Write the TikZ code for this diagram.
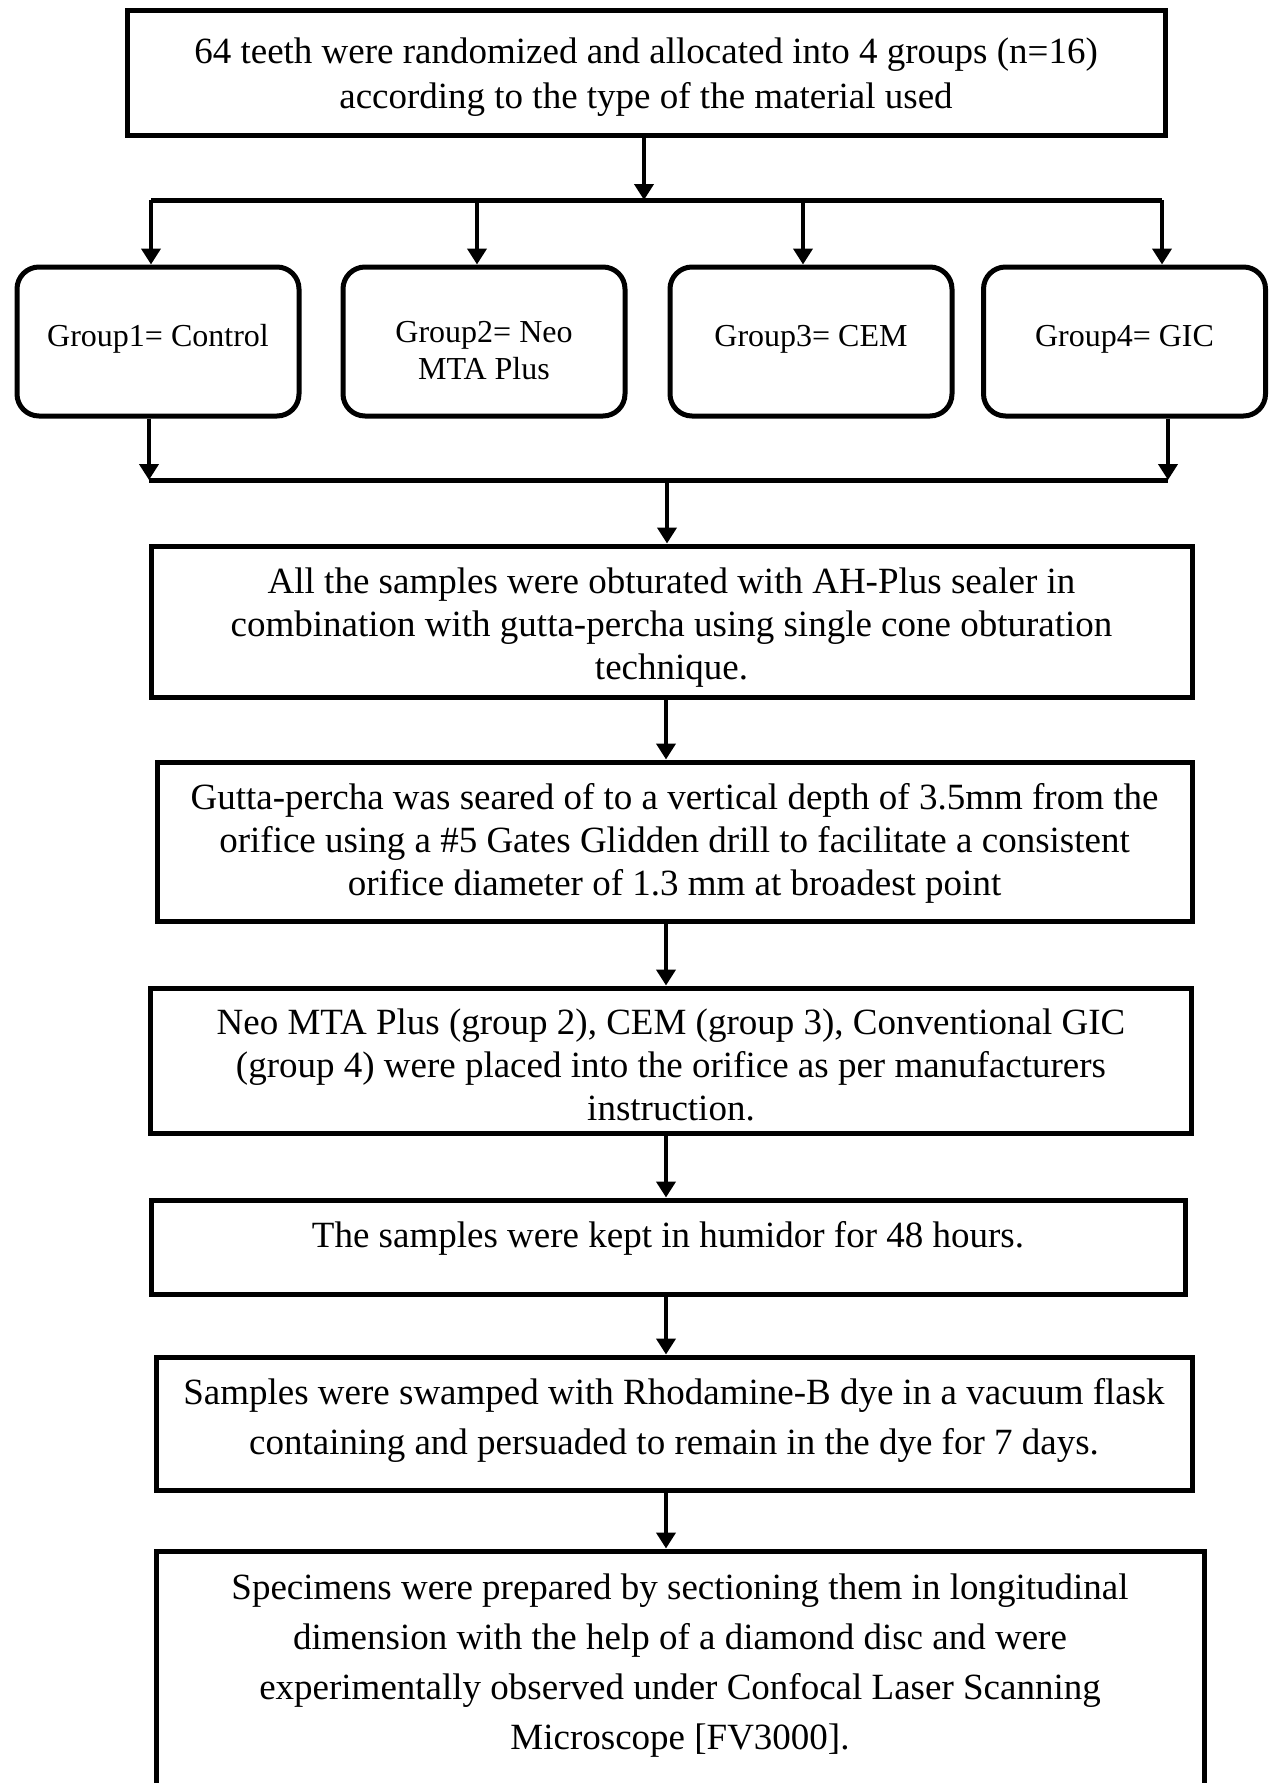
\documentclass[tikz,border=0pt]{standalone}
\usepackage{fontspec}
\setmainfont{Liberation Serif}
\usetikzlibrary{arrows.meta}
\tikzset{
	box/.style={draw, line width=2.5pt, align=center, inner sep=0pt, font=\fontsize{18.5}{21.5}\selectfont},
	grp/.style={draw, line width=2.5pt, rounded corners=11pt, align=center, minimum width=141pt, minimum height=74.5pt, inner sep=0pt, font=\fontsize{16}{18.5}\selectfont},
	arr/.style={line width=2.2pt, -{Triangle[length=8pt,width=9.5pt]}},
	bar/.style={line width=2.5pt},
}
\newcommand{\pushdown}[1]{\rule{0pt}{#1}}
\newcommand{\pushup}[1]{\rule[-#1]{0pt}{1pt}}

\begin{document}
\begin{tikzpicture}[x=0.5pt, y=-0.5pt]
		%%%%% START %%%%%
		\useasboundingbox (0, 0) rectangle (1279, 1783);
		\clip (0, 0) rectangle (1279, 1783);
		
		\node[box, minimum width=519pt, minimum height=62.75pt, font=\fontsize{18.5}{22.5}\selectfont] (teeth) at (646, 73) {\pushdown{16.5pt}64 teeth were randomized and allocated into 4 groups (n=16)\\according to the type of the material used};
		
		% groups
		\node[grp] (g1) at (158, 341.5) {Group1= Control\pushup{6pt}};
		\node[grp] (g2) at (484, 341.5) {\pushdown{19.5pt}Group2= Neo\\MTA Plus};
		\node[grp] (g3) at (811, 341.5) {Group3= CEM\pushup{6pt}};
		\node[grp] (g4) at (1124.5, 341.5) {Group4= GIC\pushup{6pt}};
		
		\coordinate (s1) at (151, 200);
		\coordinate (s2) at (477, 200);
		\coordinate (s3) at (803, 200);
		\coordinate (s4) at (1162, 200);
		\coordinate (s0) at (644, 200);
		\draw[arr] (teeth.south -| s0) -- (s0);
		\draw[bar] (s1) -- (s4);
		\draw[arr] (s1) -- (s1 |- g1.north);
		\draw[arr] (s2) -- (s2 |- g2.north);
		\draw[arr] (s3) -- (s3 |- g3.north);
		\draw[arr] (s4) -- (s4 |- g4.north);
		
		\coordinate (m1) at (149, 480);
		\coordinate (m2) at (1168, 480);
		\coordinate (m3) at (667, 480);
		\draw[arr] (m1 |- g1.south) -- (m1);
		\draw[arr] (m2 |- g4.south) -- (m2);
		\draw[bar] (m1) -- (m2);
		
		% steps
		\node[box, minimum width=520.5pt, minimum height=75.5pt] (obt) at (671.5, 621.5) {\pushdown{19.2pt}All the samples were obturated with AH-Plus sealer in\\combination with gutta-percha using single cone obturation\\technique.};
		\node[box, minimum width=517.5pt, minimum height=79.5pt] (sear) at (674.5, 841.5) {\pushdown{15pt}Gutta-percha was seared of to a vertical depth of 3.5mm from the\\orifice using a \#5 Gates Glidden drill to facilitate a consistent\\orifice diameter of 1.3 mm at broadest point};
		\node[box, minimum width=520.5pt, minimum height=72.5pt] (place) at (671, 1060.5) {\pushdown{17.6pt}Neo MTA Plus (group 2), CEM (group 3), Conventional GIC\\(group 4) were placed into the orifice as per manufacturers\\instruction.};
		\node[box, minimum width=517pt, minimum height=47pt] (humid) at (668, 1247) {The samples were kept in humidor for 48 hours.\pushup{13pt}};
		\node[box, minimum width=518pt, minimum height=66.5pt, font=\fontsize{18.5}{25}\selectfont] (dye) at (674, 1423.5) {Samples were swamped with Rhodamine-B dye in a vacuum flask\\containing and persuaded to remain in the dye for 7 days.\pushup{7.5pt}};
		\node[box, minimum width=524pt, minimum height=139.5pt] (spec) at (680, 1690.5) {};
		\node[align=center, inner sep=0pt, font=\fontsize{18.5}{25}\selectfont] (spectxt) at (680, 1666) {Specimens were prepared by sectioning them in longitudinal\\dimension with the help of a diamond disc and were\\experimentally observed under Confocal Laser Scanning\\Microscope [FV3000].};
		
		\coordinate (axis) at (666, 0);
		\draw[arr] (m3) -- (m3 |- obt.north);
		\draw[arr] (obt.south -| axis) -- (sear.north -| axis);
		\draw[arr] (sear.south -| axis) -- (place.north -| axis);
		\draw[arr] (place.south -| axis) -- (humid.north -| axis);
		\draw[arr] (humid.south -| axis) -- (dye.north -| axis);
		\draw[arr] (dye.south -| axis) -- (spec.north -| axis);
		%%%%% END %%%%%
	\end{tikzpicture}
\end{document}
